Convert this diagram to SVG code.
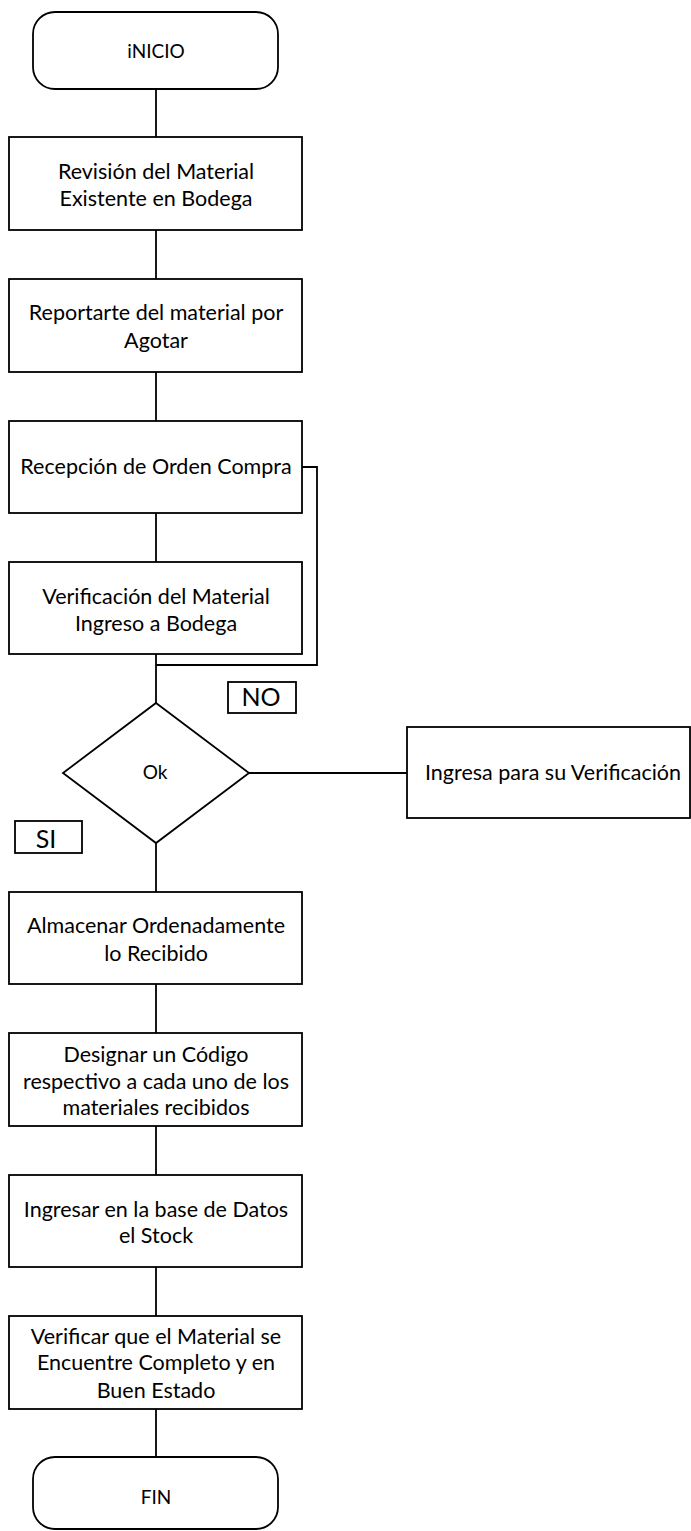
<svg xmlns="http://www.w3.org/2000/svg" width="691" height="1531" viewBox="0 0 691 1531">
<style>
.s{fill:#fff;stroke:#000;stroke-width:1.8}
.c{fill:none;stroke:#000;stroke-width:1.8}
.t{font-family:Lato,"Liberation Sans",sans-serif;font-size:21.5px;fill:#000;text-anchor:middle}
.sm{font-size:19px}
.lg{font-size:25px}
</style>
<rect width="691" height="1531" fill="#fff"/>
<g id="connectors">
<line class="c" x1="156" y1="89" x2="156" y2="137"/>
<line class="c" x1="156" y1="230" x2="156" y2="279"/>
<line class="c" x1="156" y1="372" x2="156" y2="421"/>
<line class="c" x1="156" y1="513" x2="156" y2="562"/>
<line class="c" x1="156" y1="654" x2="156" y2="703"/>
<polyline class="c" points="302,467 317,467 317,665 156,665"/>
<line class="c" x1="249" y1="773" x2="407" y2="773"/>
<line class="c" x1="156" y1="843" x2="156" y2="892"/>
<line class="c" x1="156" y1="984" x2="156" y2="1033"/>
<line class="c" x1="156" y1="1126" x2="156" y2="1175"/>
<line class="c" x1="156" y1="1267" x2="156" y2="1316"/>
<line class="c" x1="156" y1="1409" x2="156" y2="1457"/>
</g>
<g id="inicio">
<rect class="s" x="33" y="12" width="245" height="77" rx="22"/>
<text class="t sm" x="156" y="58">iNICIO</text>
</g>
<g id="revision">
<rect class="s" x="9" y="137" width="293" height="93"/>
<text class="t" x="156" y="179">Revisión del Material</text>
<text class="t" x="156" y="206">Existente en Bodega</text>
</g>
<g id="reportarte">
<rect class="s" x="9" y="279" width="293" height="93"/>
<text class="t" x="156" y="320">Reportarte del material por</text>
<text class="t" x="156" y="348">Agotar</text>
</g>
<g id="recepcion">
<rect class="s" x="9" y="421" width="293" height="92"/>
<text class="t" x="156" y="474">Recepción de Orden Compra</text>
</g>
<g id="verificacion">
<rect class="s" x="9" y="562" width="293" height="92"/>
<text class="t" x="156" y="604">Verificación del Material</text>
<text class="t" x="156" y="631">Ingreso a Bodega</text>
</g>
<g id="no-label">
<rect class="s" x="228" y="682" width="68" height="31"/>
<text class="t lg" x="261" y="706">NO</text>
</g>
<g id="decision">
<polygon class="s" points="156,703 249,773 156,843 63,773"/>
<text class="t sm" x="155" y="779">Ok</text>
</g>
<g id="ingresa">
<rect class="s" x="407" y="727" width="283" height="91"/>
<text class="t" x="553" y="780">Ingresa para su Verificación</text>
</g>
<g id="si-label">
<rect class="s" x="15" y="821" width="67" height="32"/>
<text class="t lg" x="46" y="848">SI</text>
</g>
<g id="almacenar">
<rect class="s" x="9" y="892" width="293" height="92"/>
<text class="t" x="156" y="933">Almacenar Ordenadamente</text>
<text class="t" x="156" y="961">lo Recibido</text>
</g>
<g id="designar">
<rect class="s" x="9" y="1033" width="293" height="93"/>
<text class="t" x="156" y="1062">Designar un Código</text>
<text class="t" x="156" y="1089">respectivo a cada uno de los</text>
<text class="t" x="156" y="1115">materiales recibidos</text>
</g>
<g id="ingresar">
<rect class="s" x="9" y="1175" width="293" height="92"/>
<text class="t" x="156" y="1217">Ingresar en la base de Datos</text>
<text class="t" x="156" y="1243">el Stock</text>
</g>
<g id="verificar">
<rect class="s" x="9" y="1316" width="293" height="93"/>
<text class="t" x="156" y="1344">Verificar que el Material se</text>
<text class="t" x="156" y="1370">Encuentre Completo y en</text>
<text class="t" x="156" y="1398">Buen Estado</text>
</g>
<g id="fin">
<rect class="s" x="33" y="1457" width="245" height="72" rx="22"/>
<text class="t sm" x="156" y="1504">FIN</text>
</g>
</svg>
